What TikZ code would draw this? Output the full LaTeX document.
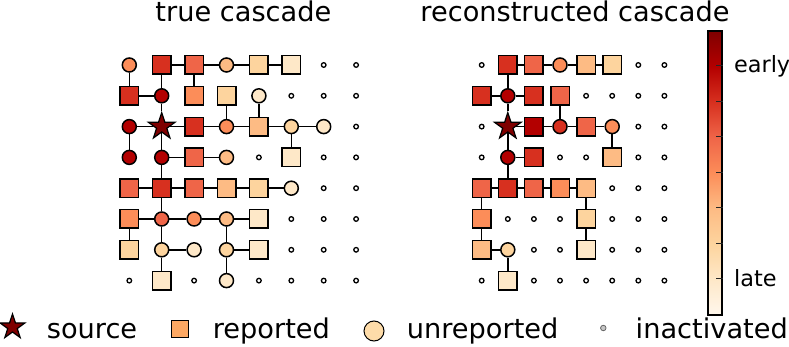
\documentclass[tikz,border=0pt]{standalone}
\usepackage{fontspec}
\setmainfont{DejaVu Sans}
\usetikzlibrary{positioning,shapes.geometric,backgrounds}

% OrRd levels, early (o0) to late (o8)
\definecolor{o0}{HTML}{7F0000}
\definecolor{o1}{HTML}{B30000}
\definecolor{o2}{HTML}{D7301F}
\definecolor{o3}{HTML}{EF6548}
\definecolor{o4}{HTML}{FC8D59}
\definecolor{o5}{HTML}{FDBB84}
\definecolor{o6}{HTML}{FDD49E}
\definecolor{o7}{HTML}{FEE8C8}
\definecolor{o8}{HTML}{FFF7EC}
\definecolor{legsq}{HTML}{FDA863}
\definecolor{legci}{HTML}{FEDCA9}

\pgfdeclareverticalshading{orrd}{100bp}{color(0bp)=(o8); color(25bp)=(o8);
	color(31.25bp)=(o7); color(37.5bp)=(o6); color(43.75bp)=(o5); color(50bp)=(o4);
	color(56.25bp)=(o3); color(62.5bp)=(o2); color(68.75bp)=(o1); color(75bp)=(o0);
	color(100bp)=(o0)}

\begin{document}
\begin{tikzpicture}[
	x=1pt, y=-1pt,
	font=\fontsize{27.2}{33}\selectfont,
	link/.style={line width=1.5pt, black},
	cellS/.style={rectangle, draw=black, line width=1.5pt, minimum size=18.5pt, inner sep=0pt},
	cellC/.style={circle, draw=black, line width=1.5pt, minimum size=14pt, inner sep=0pt},
	cellD/.style={circle, draw=black, line width=1.3pt, minimum size=4.6pt, inner sep=0pt},
	cellX/.style={star, star points=5, star point ratio=2.6, draw=black, line width=1.2pt,
		minimum size=28pt, inner sep=0pt},
	hd/.style={anchor=base},
	lgtxt/.style={anchor=base west},
	cblab/.style={anchor=base west, font=\fontsize{22.4}{27}\selectfont},
	tick/.style={line width=1pt, black!85},
]
\useasboundingbox (0,0) rectangle (789,347);

% ---- titles ----
\node[hd] (ttrue) at (243.4,21.7) {true cascade};
\node[hd] (trec) at (575,21.7) {reconstructed cascade};

% ---- true cascade grid ----
\foreach \t/\f [count=\i from 0] in {
	% row 0
	C/o4, S/o2, S/o3, C/o5, S/o6, S/o7, D/white, D/white,
	% row 1
	S/o2, C/o1, S/o4, S/o6, C/o7, D/white, D/white, D/white,
	% row 2
	C/o1, X/o0, S/o2, C/o4, S/o5, C/o6, C/o7, D/white,
	% row 3
	C/o1, C/o1, S/o3, C/o5, D/white, S/o7, D/white, D/white,
	% row 4
	S/o3, S/o2, S/o3, S/o5, S/o6, C/o7, D/white, D/white,
	% row 5
	S/o4, C/o3, C/o4, C/o5, S/o7, D/white, D/white, D/white,
	% row 6
	S/o6, C/o6, C/o7, C/o6, S/o7, D/white, D/white, D/white,
	% row 7
	D/white, S/o7, D/white, C/o7, D/white, D/white, D/white, D/white}{
	\pgfmathtruncatemacro\rw{\i/8}
	\pgfmathtruncatemacro\cl{mod(\i,8)}
	\node[cell\t, fill=\f] (L-\rw-\cl) at ({129.3+32.4*\cl},{65+30.8*\rw}) {};
}

\begin{scope}[on background layer]
\foreach \a/\b in {0-1/0-2, 0-2/0-3, 0-3/0-4, 0-4/0-5, 1-0/1-1,
	2-0/2-1, 2-1/2-2, 2-2/2-3, 2-3/2-4, 2-4/2-5, 2-5/2-6, 3-1/3-2, 3-2/3-3,
	4-0/4-1, 4-1/4-2, 4-2/4-3, 4-3/4-4, 4-4/4-5, 5-0/5-1, 5-1/5-2, 5-2/5-3, 5-3/5-4,
	6-1/6-2, 6-3/6-4,
	0-0/1-0, 0-1/1-1, 0-2/1-2, 1-1/2-1, 1-3/2-3, 1-4/2-4, 2-0/3-0, 2-1/3-1, 2-5/3-5,
	3-1/4-1, 4-1/5-1, 5-0/6-0, 5-1/6-1, 5-3/6-3, 6-1/7-1, 6-3/7-3}
	\draw[link] (L-\a) -- (L-\b);
\end{scope}

% ---- reconstructed cascade grid ----
\foreach \t/\f [count=\i from 0] in {
	% row 0
	D/white, S/o2, S/o3, C/o4, S/o5, S/o6, D/white, D/white,
	% row 1
	S/o2, C/o1, S/o2, S/o3, D/white, D/white, D/white, D/white,
	% row 2
	D/white, X/o0, S/o1, C/o2, S/o3, C/o4, D/white, D/white,
	% row 3
	D/white, C/o1, S/o2, D/white, D/white, S/o5, D/white, D/white,
	% row 4
	S/o3, S/o2, S/o3, S/o4, S/o5, D/white, D/white, D/white,
	% row 5
	S/o4, D/white, D/white, D/white, S/o6, D/white, D/white, D/white,
	% row 6
	S/o5, C/o6, D/white, D/white, S/o7, D/white, D/white, D/white,
	% row 7
	D/white, S/o7, D/white, D/white, D/white, D/white, D/white, D/white}{
	\pgfmathtruncatemacro\rw{\i/8}
	\pgfmathtruncatemacro\cl{mod(\i,8)}
	\node[cell\t, fill=\f] (R-\rw-\cl) at ({481.7+26.1*\cl},{65+30.8*\rw}) {};
}

\begin{scope}[on background layer]
\foreach \a/\b in {0-1/0-2, 0-2/0-3, 0-3/0-4, 0-4/0-5, 1-0/1-1, 1-1/1-2,
	2-1/2-2, 2-2/2-3, 2-3/2-4, 2-4/2-5, 3-1/3-2,
	4-0/4-1, 4-1/4-2, 4-2/4-3, 4-3/4-4, 6-0/6-1,
	0-1/1-1, 1-1/2-1, 1-3/2-3, 2-1/3-1, 2-5/3-5, 3-1/4-1, 4-0/5-0, 4-4/5-4,
	5-0/6-0, 5-4/6-4, 6-1/7-1}
	\draw[link] (R-\a) -- (R-\b);
\end{scope}

% ---- colorbar ----
\node[draw=black, line width=1.3pt, shading=orrd, minimum width=14pt, minimum height=284pt,
	inner sep=0pt] (cbar) at (715,173) {};
\foreach \k in {1,...,7}
	\draw[tick] ([yshift=-35.5*\k pt]cbar.north east) -- ++(-7,0);
\node[cblab] (early) at (730.5,73) {early};
\node[cblab] (late) at (730.5,286) {late};

% ---- legend ----
\node[cellX, minimum size=26pt, fill=o0] (lsrc) at (12.5,327) {};
\node[lgtxt] (tsrc) at (43.3,338) {source};
\node[cellS, minimum size=17.5pt, line width=1pt, fill=legsq] (lrep) at (180,329) {};
\node[lgtxt] (trep) at (209.3,338) {reported};
\node[cellC, minimum size=20pt, line width=1pt, fill=legci] (lunr) at (374,331) {};
\node[lgtxt] (tunr) at (403.3,338) {unreported};
\node[cellD, minimum size=5.5pt, draw=gray!80!black, fill=gray!45, line width=0.8pt] (lina) at (603.3,328) {};
\node[lgtxt] (tina) at (632.2,338) {inactivated};

\end{tikzpicture}
\end{document}
